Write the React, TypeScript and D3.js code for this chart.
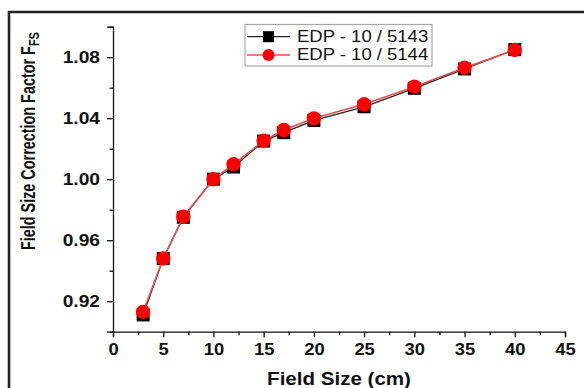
import React, { useEffect, useRef } from "react"
import * as d3 from "d3"

// field sizes (cm) and the two detectors' correction factors
const fieldSizes = [3, 5, 7, 10, 12, 15, 17, 20, 25, 30, 35, 40]
const edp5143 = [0.911, 0.948, 0.975, 1.0, 1.008, 1.025, 1.0305, 1.0385, 1.0475, 1.0596, 1.0723, 1.085]
const edp5144 = [0.913, 0.948, 0.9754, 1.0, 1.0098, 1.0252, 1.0323, 1.0399, 1.0491, 1.0607, 1.0731, 1.0847]
const seriesNames = ["EDP - 10 / 5143", "EDP - 10 / 5144"]
const xMajor = [0, 5, 10, 15, 20, 25, 30, 35, 40, 45]
const xMinor = [2.5, 7.5, 12.5, 17.5, 22.5, 27.5, 32.5, 37.5, 42.5]
const yMajor = [0.92, 0.96, 1.0, 1.04, 1.08]
const yMinor = [0.9, 0.94, 0.98, 1.02, 1.06, 1.1]

const W = 584, H = 388
const FONT = "'Liberation Sans', Arial, sans-serif"

export default function App() {
	const ref = useRef<SVGSVGElement>(null)

	useEffect(() => {
		const svg = d3.select(ref.current)
		svg.selectAll("*").remove()

		const x = d3.scaleLinear().domain([0, 45]).range([113, 565])
		const y = d3.scaleLinear().domain([0.9, 1.1]).range([331.7, 26.7])

		// outer figure frame
		svg.append("path").attr("d", `M9,${H} V12 H${W}`)
			.attr("fill", "none").attr("stroke", "#222").attr("stroke-width", 2.6)

		// axes
		const gx = svg.append("g").attr("transform", "translate(0,331.7)")
		gx.call(d3.axisBottom(x).tickValues(xMajor).tickSize(5.5).tickPadding(6).tickFormat(d3.format("d")))
		gx.append("g").call(d3.axisBottom(x).tickValues(xMinor).tickSize(3.5).tickFormat(() => ""))
			.select(".domain").remove()
		gx.selectAll("text").attr("transform", "scale(1.15,1)")
			.attr("font-family", FONT).attr("font-size", 16).attr("font-weight", "bold").attr("fill", "#111")

		const gy = svg.append("g").attr("transform", "translate(113,0)")
		gy.call(d3.axisLeft(y).tickValues(yMajor).tickSize(6).tickPadding(4.8).tickFormat(d3.format(".2f")))
		gy.append("g").call(d3.axisLeft(y).tickValues(yMinor).tickSize(3.5).tickFormat(() => ""))
			.select(".domain").remove()
		gy.selectAll("text").attr("transform", "scale(1.2,1)")
			.attr("font-family", FONT).attr("font-size", 16).attr("font-weight", "bold").attr("fill", "#111")

		svg.selectAll(".domain, .tick line").attr("stroke", "#111").attr("stroke-width", 1.3)

		// axis titles
		svg.append("text").attr("transform", "translate(339,385) scale(1.175,1)")
			.attr("text-anchor", "middle").attr("font-family", FONT).attr("font-size", 17.5)
			.attr("font-weight", "bold").attr("fill", "#111").text("Field Size (cm)")

		const yt = svg.append("text").attr("transform", "translate(35,250) rotate(-90) scale(1,1.35)")
			.attr("font-family", FONT).attr("font-size", 14.4).attr("font-weight", "bold").attr("fill", "#111")
		yt.append("tspan").text("Field Size Correction Factor F")
		yt.append("tspan").attr("font-size", 11).attr("dy", 3).text("FS")

		const line = d3.line<number>().x((_, i) => x(fieldSizes[i])).y(d => y(d))

		// EDP-10/5143 : black squares
		svg.append("path").attr("d", line(edp5143))
			.attr("fill", "none").attr("stroke", "#222").attr("stroke-width", 1.3)
		svg.append("g").selectAll("rect").data(edp5143).enter().append("rect")
			.attr("x", (_, i) => x(fieldSizes[i]) - 6.5).attr("y", d => y(d) - 6.5)
			.attr("width", 13).attr("height", 13).attr("fill", "#000")

		// EDP-10/5144 : red circles
		svg.append("path").attr("d", line(edp5144))
			.attr("fill", "none").attr("stroke", "#e4504e").attr("stroke-width", 1.6)
		svg.append("g").selectAll("circle").data(edp5144).enter().append("circle")
			.attr("cx", (_, i) => x(fieldSizes[i])).attr("cy", d => y(d))
			.attr("r", 7.2).attr("fill", "#ff0000")

		// legend
		const lg = svg.append("g")
		lg.append("rect").attr("x", 245).attr("y", 24.5).attr("width", 187).attr("height", 41.5)
			.attr("fill", "#fff").attr("stroke", "#a8a8a8").attr("stroke-width", 1.2)
		const rows = [36.7, 55]
		rows.forEach((ry, i) => {
			lg.append("line").attr("x1", 247).attr("x2", 290).attr("y1", ry).attr("y2", ry)
				.attr("stroke", i ? "#e4504e" : "#222").attr("stroke-width", i ? 1.6 : 1.3)
			if (i) lg.append("circle").attr("cx", 268.5).attr("cy", ry).attr("r", 6).attr("fill", "#ff0000")
			else lg.append("rect").attr("x", 263).attr("y", ry - 5.5).attr("width", 11).attr("height", 11).attr("fill", "#000")
			lg.append("text").attr("transform", `translate(297,${ry + 5.3}) scale(1.156,1)`)
				.attr("font-family", FONT).attr("font-size", 16).attr("fill", "#111").text(seriesNames[i])
		})
	}, [])

	return (
		<div style={{ position: "absolute", left: 0, top: 0 }}>
			<svg ref={ref} width={W} height={H} style={{ display: "block", background: "#fff" }} />
		</div>
	)
}
